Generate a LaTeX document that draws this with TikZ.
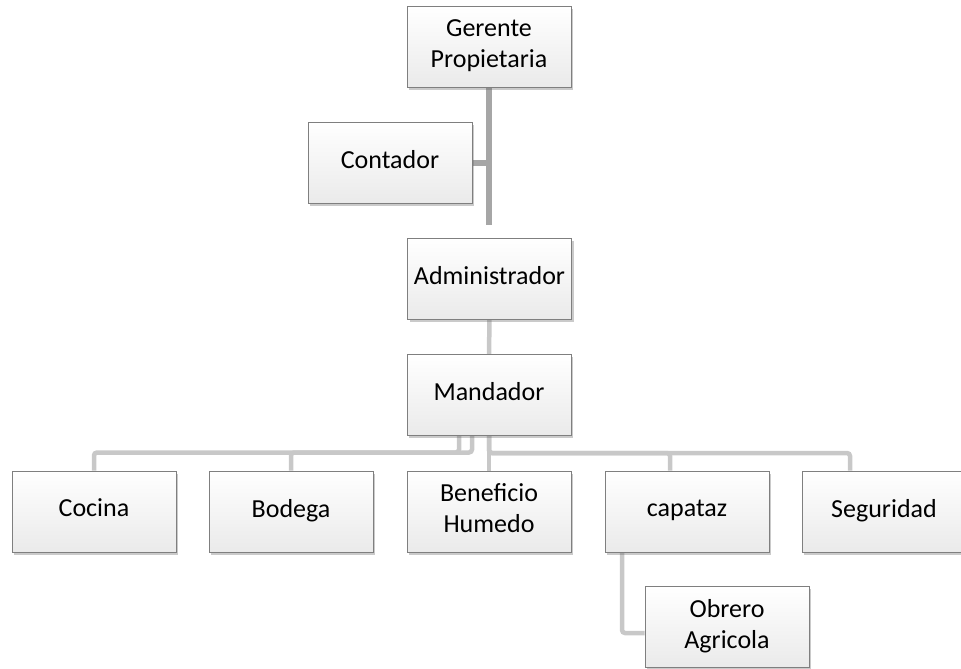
\documentclass[tikz,border=0pt]{standalone}
\usepackage{fontspec}
\setmainfont{Carlito}
\usetikzlibrary{shadows,backgrounds}
\definecolor{boxline}{HTML}{7F7F7F}
\definecolor{boxbot}{HTML}{EAEAEA}
\definecolor{topline}{HTML}{A6A6A6}
\definecolor{lowline}{HTML}{C8C8C8}
\newcommand{\boxstrut}{\rule[-7pt]{0pt}{24pt}}
\begin{document}
\begin{tikzpicture}[x=1pt,y=-1pt,
  orgbox/.style={draw=boxline, line width=1pt, top color=white, bottom color=boxbot,
    minimum width=164pt, minimum height=81pt, inner sep=0pt, align=center,
    execute at begin node=\boxstrut, execute at end node=\boxstrut,
    font=\fontsize{26}{31}\selectfont,
    drop shadow={shadow xshift=2pt, shadow yshift=-2.5pt, opacity=0.35, fill=black!60}},
  upline/.style={draw=topline, line width=6pt},
  link/.style={draw=lowline, line width=4.5pt, rounded corners=3pt}]
\useasboundingbox (0,0) rectangle (961,669);
\node[orgbox] (ger) at (489,47) {Gerente\\Propietaria};
\node[orgbox] (con) at (390,163) {Contador};
\node[orgbox] (adm) at (489.5,278.5) {Administrador};
\node[orgbox] (man) at (489,395) {Mandador};
\node[orgbox] (coc) at (94,511.5) {Cocina};
\node[orgbox] (bod) at (291,511.5) {Bodega};
\node[orgbox] (ben) at (489,511.5) {Beneficio\\Humedo};
\node[orgbox] (cap) at (687,511.5) {capataz};
\node[orgbox] (seg) at (884,511.5) {Seguridad};
\node[orgbox] (obr) at (727,627) {Obrero\\Agricola};
\coordinate (gend) at (489,225);
\begin{scope}[on background layer]
\draw[upline] (ger.south) -- (gend);
\draw[upline] (con.east) -- (con.east -| gend);
\draw[link] (adm.south) -- (man.north);
\draw[link] (coc.north) -- ++(0,-18) -| ([xshift=-17pt]man.south);
\draw[link] (bod.north) -- ++(0,-18) -| ([xshift=-30pt]man.south);
\draw[link] (man.south) -- (ben.north);
\draw[link] (man.south) -- ++(0,17) -| ([xshift=-17pt]cap.north);
\draw[link] (man.south) -- ++(0,17) -| ([xshift=-34pt]seg.north);
\draw[link] ([xshift=-65pt]cap.south) |- ([yshift=-6pt]obr.west);
\end{scope}
\end{tikzpicture}
\end{document}
